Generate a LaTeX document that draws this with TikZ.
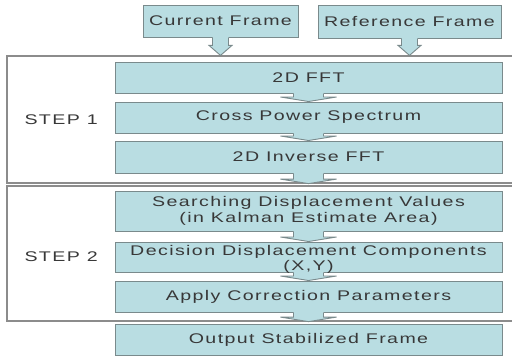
\documentclass[tikz,border=0pt]{standalone}
\usepackage{fontspec}
\usetikzlibrary{calc}
\newfontfamily\labfont[FakeStretch=1.4,LetterSpace=10]{Liberation Sans}
\definecolor{boxfill}{HTML}{B9DDE2}
\definecolor{boxline}{HTML}{7A8A8C}
\definecolor{frameline}{HTML}{8C8C8C}
\definecolor{labtext}{HTML}{383838}
\tikzset{
  every node/.style={font=\labfont\fontsize{14}{15.5}\selectfont, text=labtext},
  procbox/.style={draw=boxline, line width=1pt, fill=boxfill, inner sep=0pt,
    minimum width=387pt, align=center},
  framebox/.style={draw=boxline, line width=1pt, fill=boxfill, inner sep=0pt},
  stepframe/.style={draw=frameline, line width=1.2pt, inner sep=0pt, minimum width=511pt},
  arrfill/.style={fill=boxfill},
  arrline/.style={draw=boxline, line width=0.9pt, line join=miter},
}
% block arrow: #1 source node, #2 node whose edge the tip touches,
% #3 stem half width, #4 head half width, #5 head length,
% #6 anchor of #2 used for the tip
\newcommand\blockarrow[6]{%
  \fill[arrfill] let \p1=(#1.south), \p2=(#2.#6) in
    (\x1-#3pt,\y1+1pt) -- (\x1-#3pt,\y2+#5pt) -- (\x1-#4pt,\y2+#5pt) -- (\x1,\y2)
    -- (\x1+#4pt,\y2+#5pt) -- (\x1+#3pt,\y2+#5pt) -- (\x1+#3pt,\y1+1pt) -- cycle;
  \draw[arrline] let \p1=(#1.south), \p2=(#2.#6) in
    (\x1-#3pt,\y1) -- (\x1-#3pt,\y2+#5pt) -- (\x1-#4pt,\y2+#5pt) -- (\x1,\y2)
    -- (\x1+#4pt,\y2+#5pt) -- (\x1+#3pt,\y2+#5pt) -- (\x1+#3pt,\y1);
}
\begin{document}
\begin{tikzpicture}[x=1pt,y=-1pt]
  \useasboundingbox[fill=white] (0,0) rectangle (512,357);

  % step frames
  \node[stepframe, minimum height=127pt] (step1) at (262.5,119.5) {};
  \node[stepframe, minimum height=135pt] (step2) at (262.5,253.5) {};
  \node[anchor=west] (s1lab) at (21,120) {STEP 1};
  \node[anchor=west] (s2lab) at (21,257) {STEP 2};

  % input frames
  \node[framebox, minimum width=155pt, minimum height=32pt] (cur) at (220.5,21) {Current Frame};
  \node[framebox, minimum width=183pt, minimum height=33pt] (ref) at (409.5,21.5) {Reference Frame};

  % processing chain
  \node[procbox, minimum height=31pt] (fft)  at (308.5,77.5) {2D FFT};
  \node[procbox, minimum height=31pt] (cps)  at (308.5,117.5) {Cross Power Spectrum};
  \node[procbox, minimum height=32pt] (ifft) at (308.5,157) {2D Inverse FFT};
  \node[procbox, minimum height=40pt] (srch) at (308.5,211)
    {Searching Displacement Values\\(in Kalman Estimate Area)};
  \node[procbox, minimum height=30pt] (dec)  at (308.5,257) {};
  \node[anchor=north, align=center, inner sep=0pt] (declab) at (308.5,245)
    {Decision Displacement Components\\(X,Y)};
  \node[procbox, minimum height=31pt] (app)  at (308.5,296.5) {Apply Correction Parameters};
  \node[procbox, minimum height=31pt] (out)  at (308.5,339.5) {Output Stabilized Frame};

  % block arrows
  \blockarrow{cur}{step1}{8}{11.5}{10}{north}
  \blockarrow{ref}{step1}{8}{11.5}{10}{north}
  \blockarrow{fft}{cps}{15}{28}{4.5}{north}
  \blockarrow{cps}{ifft}{15}{28}{4.5}{north}
  \blockarrow{ifft}{step1}{15}{28}{4.5}{south}
  \blockarrow{srch}{dec}{15}{28}{4.5}{north}
  \blockarrow{dec}{app}{15}{28}{4.5}{north}
  \blockarrow{app}{step2}{15}{28}{4.5}{south}
\end{tikzpicture}
\end{document}
